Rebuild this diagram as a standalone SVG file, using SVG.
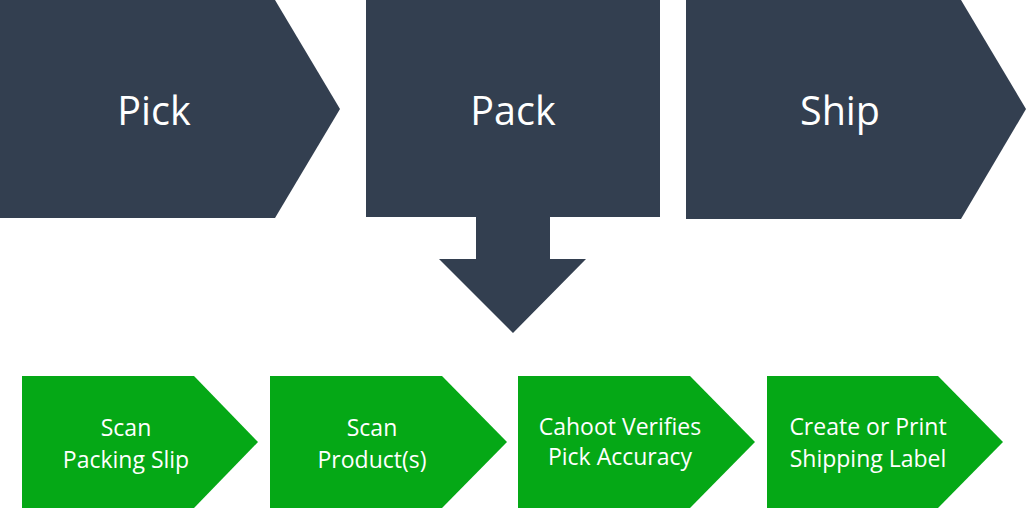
<svg xmlns="http://www.w3.org/2000/svg" width="1026" height="508" viewBox="0 0 1026 508">
<style>
.dark{fill:#333F50}
.green{fill:#05A816}
.big{font-family:"Open Sans","Liberation Sans",sans-serif;font-size:39.5px;fill:#ffffff;text-anchor:middle}
.small{font-family:"Open Sans","Liberation Sans",sans-serif;font-size:23px;fill:#ffffff;text-anchor:middle}
</style>
<rect width="1026" height="508" fill="#ffffff"/>
<g id="pick">
<polygon class="dark" points="0,0 275,0 340,109 275,218 0,218"/>
<text class="big" x="154" y="125">Pick</text>
</g>
<g id="pack">
<rect class="dark" x="366" y="0" width="294" height="217"/>
<text class="big" x="513" y="125">Pack</text>
</g>
<g id="ship">
<polygon class="dark" points="686,0 961,0 1026,109 961,219 686,219"/>
<text class="big" x="840" y="125">Ship</text>
</g>
<g id="connectors">
<polygon class="dark" points="476,216 550,216 550,259 586,259 513,333 439,259 476,259"/>
</g>
<g id="scan-packing-slip">
<polygon class="green" points="22,376 194,376 258,442 194,508 22,508"/>
<text class="small" x="126" y="436">Scan</text>
<text class="small" x="126" y="468">Packing Slip</text>
</g>
<g id="scan-products">
<polygon class="green" points="270,376 442,376 507,442 442,508 270,508"/>
<text class="small" x="372" y="436">Scan</text>
<text class="small" x="372" y="468">Product(s)</text>
</g>
<g id="cahoot-verifies">
<polygon class="green" points="518,376 690,376 755,442 690,508 518,508"/>
<text class="small" x="620" y="435">Cahoot Verifies</text>
<text class="small" x="620" y="465">Pick Accuracy</text>
</g>
<g id="create-label">
<polygon class="green" points="767,376 938,376 1003,442 938,508 767,508"/>
<text class="small" x="868" y="435">Create or Print</text>
<text class="small" x="868" y="467">Shipping Label</text>
</g>
</svg>
